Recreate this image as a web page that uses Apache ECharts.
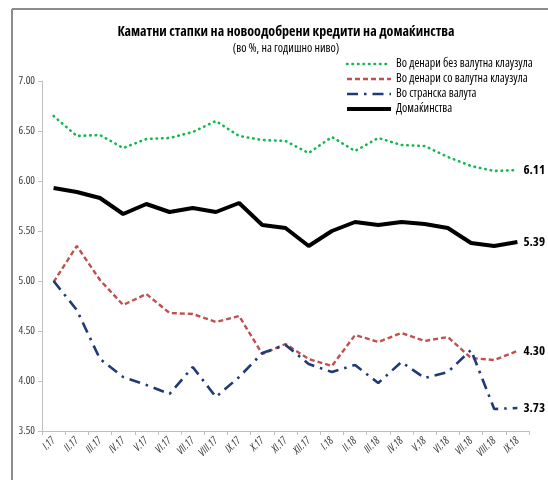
<!DOCTYPE html>
<html>
<head>
<meta charset="utf-8">
<script src="https://cdn.jsdelivr.net/npm/echarts@6/dist/echarts.min.js"></script>
<style>
  html, body { margin: 0; padding: 0; background: #fff; }
  #chart { width: 548px; height: 480px; }
</style>
</head>
<body>
<div id="chart"></div>
<script>
const months = ['I.17', 'II.17', 'III.17', 'IV.17', 'V.17', 'VI.17', 'VII.17', 'VIII.17', 'IX.17', 'X.17', 'XI.17', 'XII.17',
  'I.18', 'II.18', 'III.18', 'IV.18', 'V.18', 'VI.18', 'VII.18', 'VIII.18', 'IX.18']

const denariBez = [6.65, 6.45, 6.46, 6.33, 6.42, 6.43, 6.49, 6.60, 6.45, 6.41, 6.40, 6.28,
  6.44, 6.30, 6.43, 6.36, 6.35, 6.24, 6.15, 6.10, 6.11]
const denariSo = [4.99, 5.35, 5.01, 4.76, 4.87, 4.68, 4.67, 4.59, 4.65, 4.27, 4.37, 4.22,
  4.15, 4.46, 4.39, 4.48, 4.40, 4.44, 4.23, 4.21, 4.30]
const stranska = [5.00, 4.71, 4.22, 4.04, 3.96, 3.87, 4.14, 3.84, 4.04, 4.28, 4.36, 4.17,
  4.09, 4.16, 3.98, 4.19, 4.03, 4.09, 4.31, 3.72, 3.73]
const domakinstva = [5.93, 5.89, 5.83, 5.67, 5.77, 5.69, 5.73, 5.69, 5.78, 5.56, 5.53, 5.35,
  5.50, 5.59, 5.56, 5.59, 5.57, 5.53, 5.38, 5.35, 5.39]

// Open Sans has a condensed width here; the font string puts 'condensed' before the size
const narrow = "'Open Sans', sans-serif"

const chart = echarts.init(document.getElementById('chart'))

const endLabel = {
  show: true,
  formatter: p => Number(p.value).toFixed(2),
  fontFamily: narrow,
  fontStyle: 'condensed',
  fontWeight: 'bold',
  fontSize: 13,
  color: '#000',
  distance: 6
}

chart.setOption({
  animation: false,
  title: {
    text: 'Каматни стапки на новоодобрени кредити на домаќинства',
    subtext: '(во %, на годишно ниво)',
    left: 281,
    textAlign: 'center',
    top: 20,
    itemGap: 4,
    textStyle: { fontSize: 14, fontWeight: 'bold', fontStyle: 'condensed', color: '#000', fontFamily: narrow },
    subtextStyle: { fontSize: 12, fontStyle: 'condensed', color: '#000', fontFamily: narrow }
  },
  legend: {
    orient: 'vertical',
    left: 340,
    top: 53,
    itemGap: 3,
    itemWidth: 44,
    itemHeight: 13,
    itemStyle: { opacity: 0 },
    lineStyle: { width: 'inherit' },
    data: ['Во денари без валутна клаузула', 'Во денари со валутна клаузула', 'Во странска валута', 'Домаќинства'],
    textStyle: { fontSize: 12, fontStyle: 'condensed', color: '#000', fontFamily: narrow }
  },
  graphic: [
    { type: 'line', shape: { x1: 12, y1: 9, x2: 548, y2: 9 }, style: { stroke: '#8c8c8c', lineWidth: 2 } },
    { type: 'line', shape: { x1: 12, y1: 9, x2: 12, y2: 480 }, style: { stroke: '#8c8c8c', lineWidth: 2 } }
  ],
  grid: { left: 42, right: 19, top: 81, bottom: 49, outerBoundsMode: 'none' },
  xAxis: {
    type: 'category',
    data: months,
    boundaryGap: true,
    axisLine: { lineStyle: { color: '#bfbfbf', width: 1 } },
    axisTick: { show: true, length: 4, lineStyle: { color: '#bfbfbf' } },
    axisLabel: {
      interval: 0,
      rotate: 45,
      margin: 8,
      fontSize: 11,
      fontStyle: 'italic condensed',
      color: '#404040',
      fontFamily: narrow
    }
  },
  yAxis: {
    type: 'value',
    min: 3.5,
    max: 7,
    interval: 0.5,
    splitLine: { show: false },
    axisLine: { show: true, lineStyle: { color: '#bfbfbf', width: 1 } },
    axisTick: { show: true, length: 4, lineStyle: { color: '#bfbfbf' } },
    axisLabel: {
      formatter: v => v.toFixed(2),
      fontSize: 11,
      fontStyle: 'condensed',
      color: '#404040',
      margin: 7,
      fontFamily: narrow
    }
  },
  series: [
    {
      name: 'Во денари без валутна клаузула',
      type: 'line',
      data: denariBez,
      symbol: 'none',
      lineStyle: { color: '#14b850', width: 2.6, type: [0.5, 5], cap: 'round' },
      itemStyle: { color: '#14b850' },
      endLabel: endLabel,
      z: 3
    },
    {
      name: 'Во денари со валутна клаузула',
      type: 'line',
      data: denariSo,
      symbol: 'none',
      lineStyle: { color: '#c0504d', width: 2.4, type: [5, 3] },
      itemStyle: { color: '#c0504d' },
      endLabel: endLabel,
      z: 2
    },
    {
      name: 'Во странска валута',
      type: 'line',
      data: stranska,
      symbol: 'none',
      lineStyle: { color: '#1f3a75', width: 2.6, type: [11, 6, 2.5, 6] },
      itemStyle: { color: '#1f3a75' },
      endLabel: endLabel,
      z: 4
    },
    {
      name: 'Домаќинства',
      type: 'line',
      data: domakinstva,
      symbol: 'none',
      lineStyle: { color: '#000', width: 4 },
      itemStyle: { color: '#000' },
      endLabel: endLabel,
      z: 5
    }
  ]
})
</script>
</body>
</html>
